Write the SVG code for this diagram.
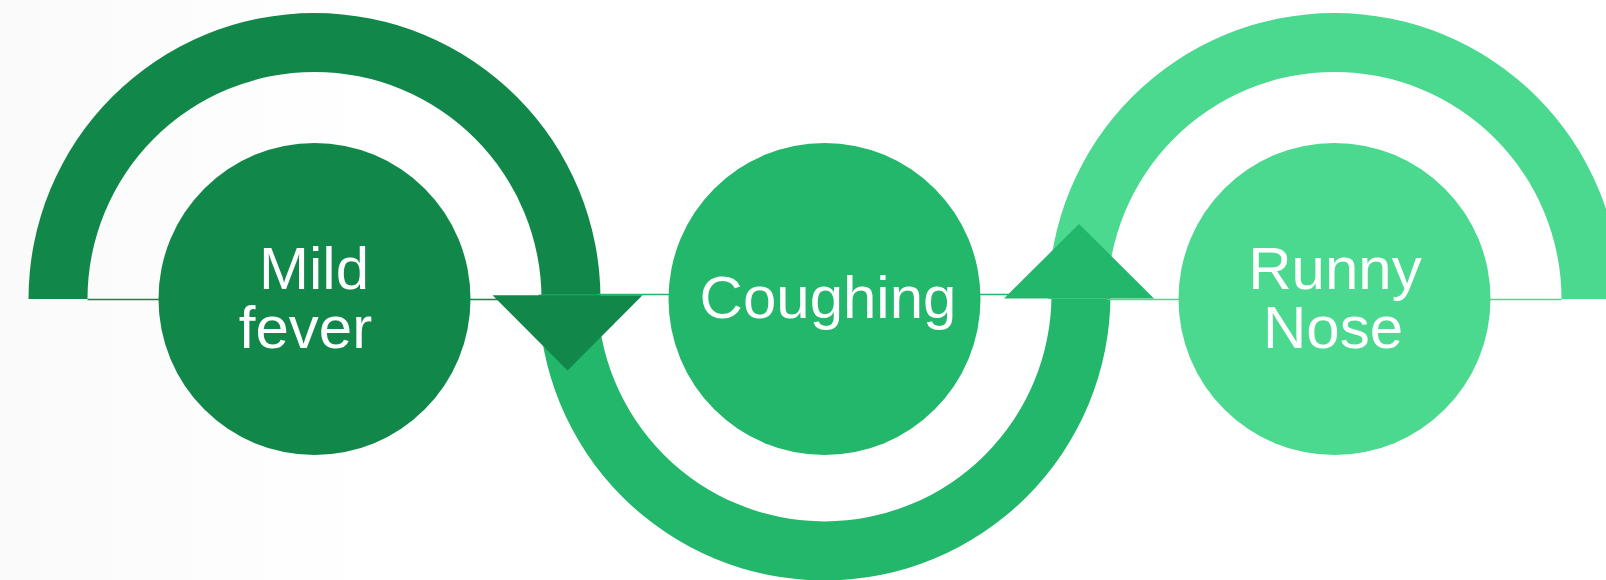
<svg xmlns="http://www.w3.org/2000/svg" width="1606" height="580" viewBox="0 0 1606 580">
  <defs>
    <linearGradient id="bg" x1="0" y1="0" x2="1" y2="0">
      <stop offset="0" stop-color="#fafafa"/>
      <stop offset="1" stop-color="#ffffff"/>
    </linearGradient>
  </defs>
  <style>
    .c1 { fill: #11884a; }
    .c2 { fill: #22b76a; }
    .c3 { fill: #4ad98f; }
    .l1 { stroke: #11884a; stroke-width: 1.5; fill: none; }
    .l2 { stroke: #22b76a; stroke-width: 1.5; fill: none; }
    .l3 { stroke: #4ad98f; stroke-width: 1.5; fill: none; }
    .lbl { font-family: "Liberation Sans", Arial, sans-serif; font-size: 60px; fill: #ffffff; text-anchor: middle; }
  </style>
  <rect x="0" y="0" width="1606" height="580" fill="#ffffff"/>
  <rect x="0" y="0" width="380" height="580" fill="url(#bg)"/>

  <g id="connectors">
    <path class="c1" d="M 28.5 299 A 286 286 0 0 1 600.5 299 L 541.5 299 A 227 227 0 0 0 87.5 299 Z"/>
    <line class="l1" x1="87.5" y1="299.5" x2="541.5" y2="299.5"/>
    <path class="c2" d="M 538.5 294.5 A 286 286 0 0 0 1110.5 294.5 L 1051.5 294.5 A 227 227 0 0 1 597.5 294.5 Z"/>
    <line class="l2" x1="597.5" y1="294.5" x2="1051.5" y2="294.5"/>
    <path class="c3" d="M 1048.5 299 A 286 286 0 0 1 1620.5 299 L 1561.5 299 A 227 227 0 0 0 1107.5 299 Z"/>
    <line class="l3" x1="1107.5" y1="299.5" x2="1561.5" y2="299.5"/>
    <polygon class="c1" points="492.5,295.3 642.5,295.3 567.5,370.5"/>
    <polygon class="c2" points="1004,298.5 1154,298.5 1079,224"/>
  </g>

  <g id="node-mild-fever">
    <circle class="c1" cx="314.5" cy="299" r="156"/>
    <text class="lbl"><tspan x="314" y="289">Mild</tspan><tspan x="305.5" y="348">fever</tspan></text>
  </g>
  <g id="node-coughing">
    <circle class="c2" cx="824.5" cy="299" r="156"/>
    <text class="lbl" x="828" y="317.5">Coughing</text>
  </g>
  <g id="node-runny-nose">
    <circle class="c3" cx="1334.5" cy="299" r="156"/>
    <text class="lbl"><tspan x="1335" y="289">Runny</tspan><tspan x="1333" y="348">Nose</tspan></text>
  </g>
</svg>
